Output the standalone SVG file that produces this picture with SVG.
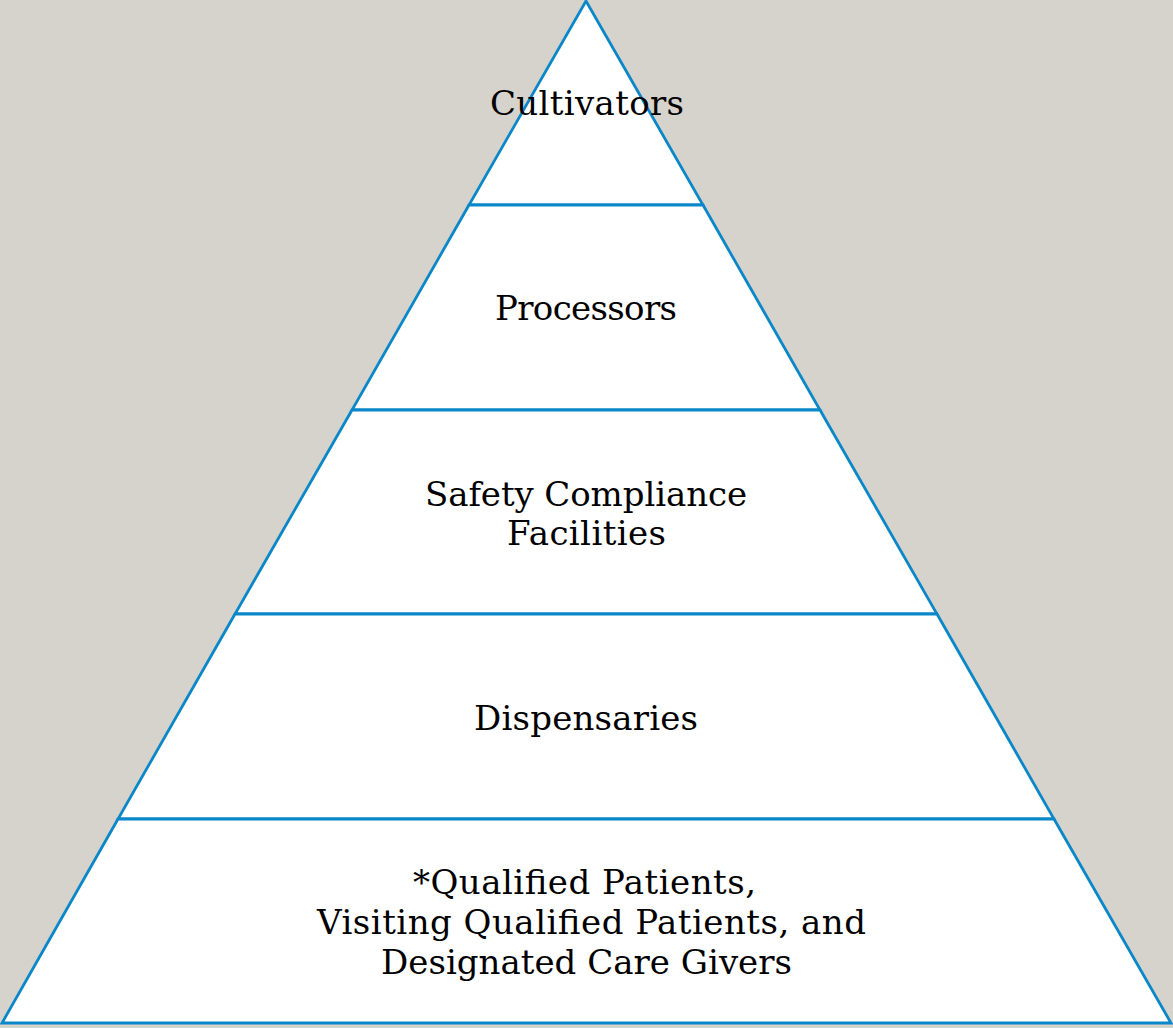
<svg xmlns="http://www.w3.org/2000/svg" width="1173" height="1028" viewBox="0 0 1173 1028">
  <style>
    .tier { fill: #ffffff; stroke: #0a87c8; stroke-width: 2.8; stroke-linejoin: miter; }
    .label { font-family: "DejaVu Serif", "Liberation Serif", serif; font-size: 34px; fill: #000000; text-anchor: middle; }
  </style>
  <rect x="0" y="0" width="1173" height="1028" fill="#d6d3cc"/>
  <!-- pyramid tiers, top to bottom -->
  <g id="tier-cultivators">
    <polygon class="tier" points="586,1 703,205 469,205"/>
    <text class="label" x="587" y="115" textLength="194" lengthAdjust="spacing">Cultivators</text>
  </g>
  <g id="tier-processors">
    <polygon class="tier" points="469,205 703,205 820,410 352,410"/>
    <text class="label" x="586" y="320" textLength="182" lengthAdjust="spacing">Processors</text>
  </g>
  <g id="tier-safety">
    <polygon class="tier" points="352,410 820,410 937,614 235,614"/>
    <text class="label" x="586" y="506" textLength="322" lengthAdjust="spacing">Safety Compliance</text>
    <text class="label" x="586.5" y="545" textLength="159" lengthAdjust="spacing">Facilities</text>
  </g>
  <g id="tier-dispensaries">
    <polygon class="tier" points="235,614 937,614 1054,819 118,819"/>
    <text class="label" x="586" y="730" textLength="224" lengthAdjust="spacing">Dispensaries</text>
  </g>
  <g id="tier-patients">
    <polygon class="tier" points="118,819 1054,819 1171,1023 2,1023"/>
    <text class="label" x="584.5" y="894" textLength="343" lengthAdjust="spacing">*Qualified Patients,</text>
    <text class="label" x="591.5" y="934" textLength="549" lengthAdjust="spacing">Visiting Qualified Patients, and</text>
    <text class="label" x="586.5" y="974" textLength="411" lengthAdjust="spacing">Designated Care Givers</text>
  </g>
  <g id="connectors"></g>
</svg>
